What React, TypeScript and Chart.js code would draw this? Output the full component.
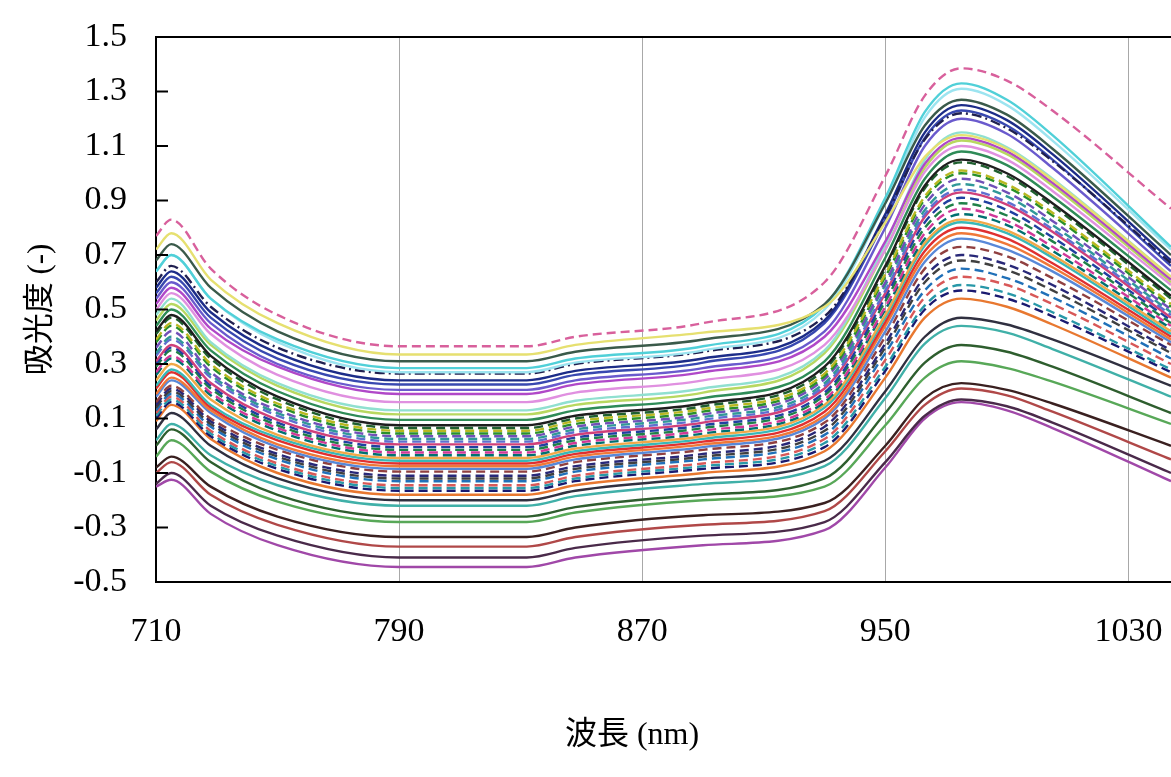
import React, { useEffect, useRef } from "react";
import { Chart, registerables } from "chart.js";

Chart.register(...registerables);

// Wavelength sampling points (nm)
const wavelengths = [710, 715, 728, 750, 790, 832, 848, 890, 930, 950, 963, 975, 990, 1005, 1044];
const xTickValues = [710, 790, 870, 950, 1030];
const yTickValues = [-0.5, -0.3, -0.1, 0.1, 0.3, 0.5, 0.7, 0.9, 1.1, 1.3, 1.5];

// Absorbance spectra
const s01 = [0.77, 0.83, 0.65, 0.48, 0.365, 0.365, 0.40, 0.45, 0.60, 0.99, 1.285, 1.385, 1.34, 1.23, 0.87];
const s02 = [0.72, 0.78, 0.61, 0.45, 0.335, 0.335, 0.37, 0.415, 0.51, 0.82, 1.06, 1.14, 1.09, 0.975, 0.62];
const s03 = [0.68, 0.74, 0.58, 0.42, 0.31, 0.31, 0.345, 0.39, 0.52, 0.89, 1.175, 1.27, 1.215, 1.09, 0.70];
const s04 = [0.64, 0.70, 0.54, 0.39, 0.285, 0.285, 0.32, 0.365, 0.515, 0.91, 1.225, 1.33, 1.27, 1.14, 0.73];
const s05 = [0.64, 0.70, 0.54, 0.38, 0.27, 0.27, 0.305, 0.35, 0.50, 0.89, 1.205, 1.31, 1.25, 1.12, 0.72];
const s06 = [0.60, 0.66, 0.51, 0.36, 0.265, 0.265, 0.30, 0.345, 0.475, 0.84, 1.125, 1.22, 1.165, 1.045, 0.67];
const s07 = [0.58, 0.64, 0.49, 0.34, 0.24, 0.24, 0.275, 0.32, 0.46, 0.85, 1.15, 1.25, 1.195, 1.07, 0.68];
const s08 = [0.56, 0.62, 0.47, 0.32, 0.225, 0.225, 0.26, 0.305, 0.45, 0.83, 1.13, 1.23, 1.175, 1.05, 0.66];
const s09 = [0.54, 0.60, 0.45, 0.30, 0.205, 0.205, 0.24, 0.285, 0.42, 0.80, 1.10, 1.20, 1.145, 1.02, 0.64];
const s10 = [0.52, 0.58, 0.43, 0.29, 0.19, 0.19, 0.225, 0.27, 0.40, 0.75, 1.035, 1.13, 1.08, 0.965, 0.61];
const s11 = [0.50, 0.56, 0.41, 0.26, 0.16, 0.16, 0.195, 0.24, 0.37, 0.72, 1.005, 1.10, 1.05, 0.935, 0.59];
const s12 = [0.48, 0.54, 0.38, 0.23, 0.13, 0.13, 0.165, 0.21, 0.35, 0.74, 1.05, 1.15, 1.095, 0.98, 0.62];
const s13 = [0.46, 0.52, 0.37, 0.22, 0.115, 0.115, 0.15, 0.195, 0.34, 0.72, 1.02, 1.12, 1.07, 0.955, 0.60];
const s14 = [0.44, 0.50, 0.35, 0.20, 0.095, 0.095, 0.13, 0.175, 0.31, 0.69, 0.98, 1.08, 1.03, 0.915, 0.57];
const s15 = [0.42, 0.48, 0.33, 0.18, 0.075, 0.075, 0.11, 0.155, 0.29, 0.66, 0.955, 1.05, 1.00, 0.89, 0.55];
const s16 = [0.41, 0.47, 0.32, 0.17, 0.065, 0.065, 0.10, 0.145, 0.28, 0.65, 0.945, 1.04, 0.99, 0.88, 0.54];
const s17 = [0.39, 0.45, 0.30, 0.155, 0.055, 0.055, 0.09, 0.135, 0.265, 0.63, 0.915, 1.01, 0.96, 0.855, 0.52];
const s18 = [0.38, 0.44, 0.29, 0.145, 0.045, 0.045, 0.08, 0.125, 0.255, 0.62, 0.905, 1.00, 0.95, 0.845, 0.51];
const s19 = [0.36, 0.42, 0.27, 0.13, 0.035, 0.035, 0.07, 0.115, 0.245, 0.60, 0.885, 0.98, 0.93, 0.825, 0.50];
const s20 = [0.34, 0.40, 0.26, 0.12, 0.025, 0.025, 0.06, 0.105, 0.23, 0.59, 0.865, 0.96, 0.915, 0.81, 0.49];
const s21 = [0.33, 0.39, 0.25, 0.11, 0.015, 0.015, 0.05, 0.095, 0.22, 0.57, 0.85, 0.94, 0.895, 0.795, 0.48];
const s22 = [0.31, 0.37, 0.23, 0.095, 0.005, 0.005, 0.04, 0.085, 0.21, 0.56, 0.84, 0.93, 0.885, 0.785, 0.47];
const s23 = [0.30, 0.36, 0.22, 0.085, -0.005, -0.005, 0.03, 0.075, 0.195, 0.545, 0.82, 0.91, 0.865, 0.765, 0.46];
const s24 = [0.29, 0.35, 0.21, 0.075, -0.015, -0.015, 0.02, 0.065, 0.185, 0.53, 0.80, 0.89, 0.845, 0.75, 0.45];
const s25 = [0.27, 0.33, 0.195, 0.065, -0.025, -0.025, 0.01, 0.055, 0.17, 0.51, 0.78, 0.87, 0.825, 0.73, 0.44];
const s26 = [0.26, 0.32, 0.185, 0.055, -0.035, -0.035, 0.0, 0.045, 0.16, 0.50, 0.76, 0.85, 0.81, 0.715, 0.43];
const s27 = [0.24, 0.30, 0.17, 0.04, -0.045, -0.045, -0.01, 0.035, 0.15, 0.48, 0.745, 0.83, 0.79, 0.70, 0.42];
const s28 = [0.22, 0.28, 0.15, 0.03, -0.055, -0.055, -0.02, 0.025, 0.14, 0.47, 0.735, 0.82, 0.78, 0.69, 0.41];
const s29 = [0.21, 0.27, 0.14, 0.02, -0.065, -0.065, -0.03, 0.015, 0.125, 0.455, 0.715, 0.80, 0.76, 0.67, 0.40];
const s30 = [0.19, 0.25, 0.13, 0.005, -0.075, -0.075, -0.04, 0.005, 0.11, 0.44, 0.695, 0.78, 0.74, 0.655, 0.39];
const s31 = [0.18, 0.24, 0.12, -0.005, -0.085, -0.085, -0.05, -0.005, 0.10, 0.42, 0.675, 0.76, 0.72, 0.64, 0.38];
const s32 = [0.16, 0.22, 0.10, -0.015, -0.095, -0.095, -0.06, -0.015, 0.085, 0.40, 0.65, 0.73, 0.695, 0.615, 0.37];
const s33 = [0.15, 0.21, 0.09, -0.03, -0.11, -0.11, -0.075, -0.03, 0.07, 0.375, 0.62, 0.70, 0.665, 0.59, 0.35];
const s34 = [0.14, 0.20, 0.08, -0.04, -0.12, -0.12, -0.085, -0.04, 0.055, 0.36, 0.60, 0.68, 0.645, 0.57, 0.34];
const s35 = [0.13, 0.19, 0.07, -0.05, -0.13, -0.13, -0.095, -0.05, 0.04, 0.34, 0.57, 0.65, 0.615, 0.545, 0.32];
const s36 = [0.12, 0.18, 0.055, -0.065, -0.145, -0.145, -0.11, -0.065, 0.025, 0.315, 0.545, 0.62, 0.59, 0.52, 0.30];
const s37 = [0.11, 0.17, 0.045, -0.075, -0.155, -0.155, -0.12, -0.075, 0.01, 0.29, 0.515, 0.59, 0.56, 0.49, 0.28];
const s38 = [0.10, 0.16, 0.035, -0.085, -0.165, -0.165, -0.13, -0.085, -0.005, 0.275, 0.50, 0.57, 0.54, 0.475, 0.27];
const s39 = [0.09, 0.15, 0.025, -0.10, -0.18, -0.18, -0.145, -0.10, -0.02, 0.25, 0.47, 0.54, 0.51, 0.445, 0.25];
const s40 = [0.06, 0.12, 0.0, -0.12, -0.20, -0.20, -0.165, -0.12, -0.055, 0.20, 0.40, 0.47, 0.445, 0.39, 0.22];
const s41 = [0.02, 0.08, -0.035, -0.145, -0.22, -0.22, -0.185, -0.14, -0.075, 0.175, 0.375, 0.44, 0.415, 0.355, 0.18];
const s42 = [0.0, 0.06, -0.06, -0.18, -0.26, -0.26, -0.225, -0.18, -0.12, 0.12, 0.305, 0.37, 0.345, 0.29, 0.12];
const s43 = [-0.04, 0.02, -0.095, -0.205, -0.28, -0.28, -0.245, -0.20, -0.15, 0.075, 0.25, 0.31, 0.285, 0.235, 0.08];
const s44 = [-0.08, -0.04, -0.15, -0.26, -0.335, -0.335, -0.30, -0.255, -0.21, 0.0, 0.175, 0.23, 0.205, 0.155, 0.0];
const s45 = [-0.10, -0.06, -0.18, -0.29, -0.37, -0.37, -0.335, -0.29, -0.24, -0.02, 0.15, 0.21, 0.185, 0.125, -0.05];
const s46 = [-0.14, -0.10, -0.22, -0.33, -0.41, -0.41, -0.375, -0.33, -0.28, -0.06, 0.11, 0.17, 0.145, 0.085, -0.10];
const s47 = [-0.15, -0.125, -0.25, -0.365, -0.445, -0.445, -0.41, -0.365, -0.31, -0.08, 0.10, 0.16, 0.13, 0.065, -0.13];

const seriesValues = [
  s01, s02, s03, s04, s05, s06, s07, s08, s09, s10,
  s11, s12, s13, s14, s15, s16, s17, s18, s19, s20,
  s21, s22, s23, s24, s25, s26, s27, s28, s29, s30,
  s31, s32, s33, s34, s35, s36, s37, s38, s39, s40,
  s41, s42, s43, s44, s45, s46, s47,
];

const seriesColors = [
  "#D8609C", "#E6E070", "#3A5A4A", "#50D0D8", "#9CE4F0", "#202050", "#1C2C88", "#3848B0", "#6A5ACD", "#B048C8",
  "#E090E0", "#90E0D0", "#B8D860", "#2E8B57", "#1E1E1E", "#1F5F2F", "#B8B820", "#2A902A", "#7050B8", "#309898",
  "#5F6FD0", "#D0407A", "#2040A0", "#1F8048", "#D03898", "#007070", "#F0A848", "#38B8B8", "#E03030", "#F07838",
  "#5888D8", "#904040", "#282878", "#404040", "#2070B8", "#D85858", "#2898A8", "#1A1A70", "#E87830", "#303040",
  "#40B0A8", "#2E5E2E", "#58A858", "#3A2020", "#B04848", "#4A2A4A", "#A048A8",
];

const seriesStyles = [
  "dash", "solid", "solid", "solid", "solid", "dashdot", "solid", "solid", "solid", "solid",
  "solid", "solid", "solid", "solid", "solid", "dash", "dash", "dash", "dash", "dash",
  "dash", "solid", "dash", "dash", "dash", "dash", "solid", "solid", "solid", "solid",
  "solid", "dash", "dash", "dash", "dash", "dash", "dash", "dash", "solid", "solid",
  "solid", "solid", "solid", "solid", "solid", "solid", "solid",
];

const xTitle = "波長 (nm)";
const yTitle = "吸光度 (-)";

const FONT_FAMILY = '"Liberation Serif", "Noto Sans CJK JP", serif';

const dashFor = (style: string) =>
  style === "dash" ? [9, 5] : style === "dashdot" ? [10, 4, 2, 4] : [];

const framePlugin = {
  id: "frame",
  afterDraw(chart: any) {
    const { ctx, chartArea, scales } = chart;
    const { left, right, top } = chartArea;
    ctx.save();
    ctx.strokeStyle = "#000";
    ctx.lineWidth = 2;
    ctx.beginPath();
    ctx.moveTo(left, top);
    ctx.lineTo(right, top);
    ctx.stroke();
    const ys = scales.y;
    ys.ticks.forEach((t: any) => {
      const py = ys.getPixelForValue(t.value);
      ctx.beginPath();
      ctx.moveTo(left, py);
      ctx.lineTo(left + 12, py);
      ctx.stroke();
    });
    ctx.fillStyle = "#000";
    ctx.font = `32px ${FONT_FAMILY}`;
    ctx.textAlign = "center";
    ctx.textBaseline = "middle";
    ctx.fillText(xTitle, left + 476, 736);
    ctx.restore();
  },
};

export default function App() {
  const canvasRef = useRef<HTMLCanvasElement | null>(null);

  useEffect(() => {
    const canvas = canvasRef.current;
    if (!canvas) return;
    const datasets = seriesValues.map((vals, i) => ({
      label: `S${i + 1}`,
      data: vals.map((v, j) => ({ x: wavelengths[j], y: v })),
      borderColor: seriesColors[i],
      backgroundColor: seriesColors[i],
      borderWidth: 2.4,
      borderDash: dashFor(seriesStyles[i]),
      pointRadius: 0,
      fill: false,
      cubicInterpolationMode: "monotone" as const,
    }));

    const chart = new Chart(canvas, {
      type: "line",
      data: { datasets },
      plugins: [framePlugin],
      options: {
        animation: false,
        responsive: true,
        maintainAspectRatio: false,
        layout: { padding: { top: 37, right: 0, left: 0, bottom: 0 } },
        plugins: {
          legend: { display: false },
          tooltip: { enabled: false },
        },
        scales: {
          x: {
            type: "linear",
            min: 710,
            max: 1044,
            afterBuildTicks: (scale: any) => {
              scale.ticks = xTickValues.map((v) => ({ value: v }));
            },
            afterFit: (scale: any) => {
              scale.height = 195;
            },
            grid: {
              drawTicks: true,
              tickLength: 30,
              tickColor: "rgba(0,0,0,0)",
              color: (c: any) => (c.tick && c.tick.value === 710 ? "rgba(0,0,0,0)" : "#a8a8a8"),
              lineWidth: 1,
            },
            border: { display: true, color: "#000", width: 2 },
            ticks: {
              padding: 0,
              maxRotation: 0,
              autoSkip: false,
              color: "#000",
              font: { family: FONT_FAMILY, size: 34 },
              callback: (v: any) => String(v),
            },
          },
          y: {
            type: "linear",
            min: -0.5,
            max: 1.5,
            afterBuildTicks: (scale: any) => {
              scale.ticks = yTickValues.map((v) => ({ value: v }));
            },
            afterFit: (scale: any) => {
              scale.width = 156;
            },
            grid: {
              drawOnChartArea: false,
              drawTicks: true,
              tickLength: 29,
              tickColor: "rgba(0,0,0,0)",
            },
            border: { display: true, color: "#000", width: 2 },
            ticks: {
              padding: 0,
              autoSkip: false,
              color: "#000",
              font: { family: FONT_FAMILY, size: 34 },
              callback: (v: any) => Number(v).toFixed(1),
            },
            title: {
              display: true,
              text: yTitle,
              color: "#000",
              font: { family: FONT_FAMILY, size: 31 },
              padding: { top: 22, bottom: 0 },
            },
          },
        },
      },
    });
    return () => chart.destroy();
  }, []);

  return (
    <div
      style={{
        position: "fixed",
        left: 0,
        top: 0,
        width: 1171,
        height: 777,
        background: "#fff",
      }}
    >
      <canvas ref={canvasRef} />
    </div>
  );
}
